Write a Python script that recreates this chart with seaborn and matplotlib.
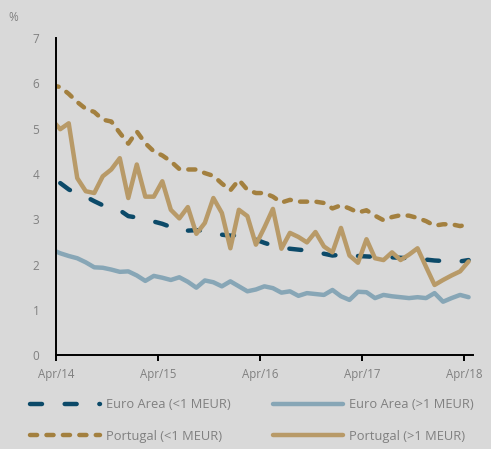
import numpy as np
import pandas as pd
import matplotlib
matplotlib.use("Agg")
import matplotlib.pyplot as plt
import seaborn as sns

nan = np.nan

# monthly series, Mar/14 .. Apr/18 (values in %)
euro_small = [nan, 3.80, 3.66, 3.56, 3.50, 3.40, 3.31, 3.27, 3.20, 3.07,
              3.04, 3.00, 2.95, 2.90, 2.83, 2.73, 2.75, 2.76, 2.75, 2.72,
              2.66, 2.64, 2.65, 2.59, 2.55, 2.48, 2.42, 2.37, 2.35, 2.33,
              2.31, 2.28, 2.24, 2.20, 2.22, 2.22, 2.19, 2.18, 2.17, 2.18,
              2.16, 2.15, 2.14, 2.12, 2.11, 2.09, 2.08, 2.08, 2.07, 2.10]
euro_large = [2.33, 2.25, 2.19, 2.14, 2.05, 1.94, 1.93, 1.89, 1.84, 1.85,
              1.76, 1.64, 1.75, 1.71, 1.66, 1.72, 1.62, 1.49, 1.65, 1.61,
              1.52, 1.63, 1.52, 1.41, 1.45, 1.52, 1.48, 1.38, 1.41, 1.31,
              1.37, 1.35, 1.33, 1.44, 1.30, 1.22, 1.40, 1.39, 1.26, 1.33,
              1.30, 1.28, 1.26, 1.28, 1.26, 1.37, 1.18, 1.26, 1.33, 1.28]
portugal_small = [5.96, 5.92, 5.77, 5.59, 5.44, 5.37, 5.20, 5.16, 4.91, 4.67,
                  4.94, 4.68, 4.50, 4.41, 4.28, 4.11, 4.10, 4.10, 4.02, 3.96,
                  3.79, 3.64, 3.87, 3.65, 3.58, 3.58, 3.50, 3.37, 3.43, 3.39,
                  3.39, 3.39, 3.36, 3.24, 3.31, 3.24, 3.15, 3.20, 3.08, 2.98,
                  3.05, 3.09, 3.08, 3.03, 2.96, 2.86, 2.89, 2.89, 2.85, 2.89]
portugal_large = [5.20, 4.99, 5.12, 3.91, 3.62, 3.58, 3.95, 4.10, 4.35, 3.47,
                  4.21, 3.50, 3.50, 3.84, 3.21, 3.02, 3.27, 2.68, 2.92, 3.47,
                  3.14, 2.36, 3.21, 3.07, 2.44, 2.82, 3.23, 2.35, 2.70, 2.61,
                  2.49, 2.72, 2.40, 2.27, 2.81, 2.20, 2.04, 2.56, 2.14, 2.10,
                  2.27, 2.10, 2.22, 2.36, 1.95, 1.55, 1.66, 1.76, 1.85, 2.07]

labels = ["Euro Area (<1 MEUR)", "Euro Area (>1 MEUR)",
          "Portugal (<1 MEUR)", "Portugal (>1 MEUR)"]
tick_labels = ["Apr/14", "Apr/15", "Apr/16", "Apr/17", "Apr/18"]

BG = "#d9d9d9"
GREY = "#808080"

sns.set_style("white")
plt.rcParams["font.family"] = ["Open Sans", "DejaVu Sans"]

# points sit mid-month; the Apr/14 tick is at 0
x = np.arange(len(portugal_large)) - 0.5
df = pd.DataFrame({"x": x, labels[0]: euro_small, labels[1]: euro_large,
                   labels[2]: portugal_small, labels[3]: portugal_large})

styles = {
    labels[0]: dict(color="#0c4a69", dashes=(2.7, 5.1)),
    labels[1]: dict(color="#87a6b6", dashes=None),
    labels[2]: dict(color="#a3803f", dashes=(1.6, 2.1)),
    labels[3]: dict(color="#b89a68", dashes=None),
}

fig = plt.figure(figsize=(4.91, 4.49), dpi=100, facecolor=BG)
ax = fig.add_axes([0.114, 0.209, 0.849, 0.706], facecolor=BG)

for name in labels:
    st = styles[name]
    sns.lineplot(data=df, x="x", y=name, ax=ax, color=st["color"], lw=3.2,
                 label=name, legend=False)
    line = ax.lines[-1]
    line.set_solid_capstyle("round")
    line.set_dash_capstyle("round")
    line.set_solid_joinstyle("round")
    if st["dashes"] is not None:
        line.set_dashes(st["dashes"])

ax.set_xlim(0, 49)
ax.set_ylim(0, 7)
ax.set_xticks(np.arange(0, 49, 12))
ax.set_xticklabels(tick_labels)
ax.set_yticks(range(0, 8))
ax.set_xlabel("")
ax.set_ylabel("")
sns.despine(ax=ax)
for s in ("left", "bottom"):
    ax.spines[s].set_color("black")
    ax.spines[s].set_linewidth(1.4)
ax.tick_params(axis="x", direction="out", length=4, width=1.4, color="black",
               labelsize=8.3, labelcolor=GREY, pad=5, bottom=True)
ax.tick_params(axis="y", length=0, labelsize=8.5, labelcolor=GREY, pad=12)

fig.text(0.018, 0.953, "%", fontsize=8.5, color=GREY)

handles = ax.lines
order = [0, 2, 1, 3]
leg = fig.legend([handles[i] for i in order], [labels[i] for i in order],
                 loc="upper left", bbox_to_anchor=(0.061, 0.113), ncol=2,
                 frameon=False, fontsize=9.3, handlelength=5.4,
                 handletextpad=0.5, columnspacing=3.25, labelspacing=1.45,
                 borderpad=0, borderaxespad=0)
for t in leg.get_texts():
    t.set_color(GREY)

fig.savefig("out.png", dpi=100, facecolor=BG)
